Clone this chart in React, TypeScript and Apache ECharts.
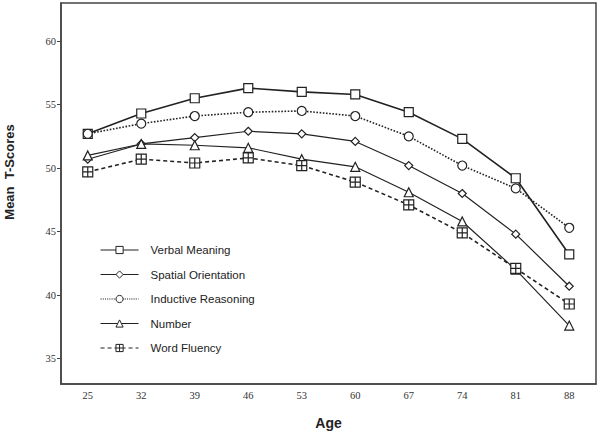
import React, { useEffect, useRef } from "react";
import * as echarts from "echarts";

const ages = ["25", "32", "39", "46", "53", "60", "67", "74", "81", "88"];
const yTicks = [35, 40, 45, 50, 55, 60];
const verbalMeaning = [52.7, 54.3, 55.5, 56.3, 56.0, 55.8, 54.4, 52.3, 49.2, 43.2];
const spatialOrientation = [50.7, 51.9, 52.4, 52.9, 52.7, 52.1, 50.2, 48.0, 44.8, 40.7];
const inductiveReasoning = [52.7, 53.5, 54.1, 54.4, 54.5, 54.1, 52.5, 50.2, 48.4, 45.3];
const numberScores = [51.0, 51.9, 51.8, 51.6, 50.7, 50.1, 48.1, 45.8, 42.0, 37.6];
const wordFluency = [49.7, 50.7, 50.4, 50.8, 50.2, 48.9, 47.1, 44.9, 42.1, 39.3];

const INK = "#222";
const plusSquare = "path://M0,0H10V10H0Z M5,0V10 M0,5H10";

export default function App() {
  const ref = useRef<HTMLDivElement>(null);
  useEffect(() => {
    if (!ref.current) return;
    const chart = echarts.init(ref.current, undefined, { renderer: "svg" });
    const mk = (name: string, data: number[], symbol: string, size: number, type: any, width: number) => ({
      name,
      type: "line",
      data,
      symbol,
      symbolSize: size,
      lineStyle: { color: INK, width, type },
      itemStyle: { color: "#fff", borderColor: INK, borderWidth: 1.2 },
      emphasis: { disabled: true },
    });
    chart.setOption({
      animation: false,
      backgroundColor: "#fff",
      grid: { left: 61, right: 4, top: 3, bottom: 50, show: true, borderColor: "#444", borderWidth: 1.5 },
      legend: {
        orient: "vertical",
        left: 100,
        top: 244,
        padding: 0,
        itemWidth: 38,
        itemHeight: 9,
        itemGap: 12.5,
        lineStyle: { width: 1.1 },
        itemStyle: { borderWidth: 1 },
        textStyle: { fontFamily: "Liberation Sans", fontSize: 11.5, color: "#222", padding: [0, 0, 0, 7] },
        data: ["Verbal Meaning", "Spatial Orientation", "Inductive Reasoning", "Number", "Word Fluency"],
      },
      xAxis: {
        type: "category",
        data: ages,
        boundaryGap: true,
        name: "Age",
        nameLocation: "middle",
        nameGap: 32,
        nameTextStyle: { fontFamily: "Liberation Sans", fontWeight: "bold", fontSize: 14, color: "#222" },
        axisLine: { lineStyle: { color: "#444", width: 1.5 } },
        axisTick: { alignWithLabel: true, length: 4, lineStyle: { color: "#444" } },
        axisLabel: { fontFamily: "Liberation Serif", fontSize: 10.5, color: "#333", margin: 6 },
        splitLine: { show: false },
      },
      yAxis: {
        type: "value",
        min: 33,
        max: 63,
        axisLine: { show: true, lineStyle: { color: "#444", width: 1.5 } },
        axisTick: { show: true, length: 4, customValues: yTicks, lineStyle: { color: "#444" } },
        axisLabel: { customValues: yTicks, fontFamily: "Liberation Serif", fontSize: 10.5, color: "#333", margin: 5 },
        splitLine: { show: false },
      },
      graphic: [
        {
          type: "text",
          x: 9,
          y: 172,
          rotation: Math.PI / 2,
          style: {
            text: "Mean  T-Scores",
            fontFamily: "Liberation Sans",
            fontWeight: "bold",
            fontSize: 13,
            fill: "#222",
            align: "center",
            verticalAlign: "middle",
          },
        },
      ],
      series: [
        mk("Verbal Meaning", verbalMeaning, "rect", 9, "solid", 1.6),
        mk("Inductive Reasoning", inductiveReasoning, "circle", 9, "dotted", 1.6),
        mk("Spatial Orientation", spatialOrientation, "diamond", 8, "solid", 1.2),
        mk("Number", numberScores, "triangle", 9, "solid", 1.2),
        mk("Word Fluency", wordFluency, plusSquare, 10, [4, 3], 1.6),
      ],
    });
    return () => chart.dispose();
  }, []);
  return <div ref={ref} style={{ width: 600, height: 435, position: "absolute", left: 0, top: 0 }} />;
}
